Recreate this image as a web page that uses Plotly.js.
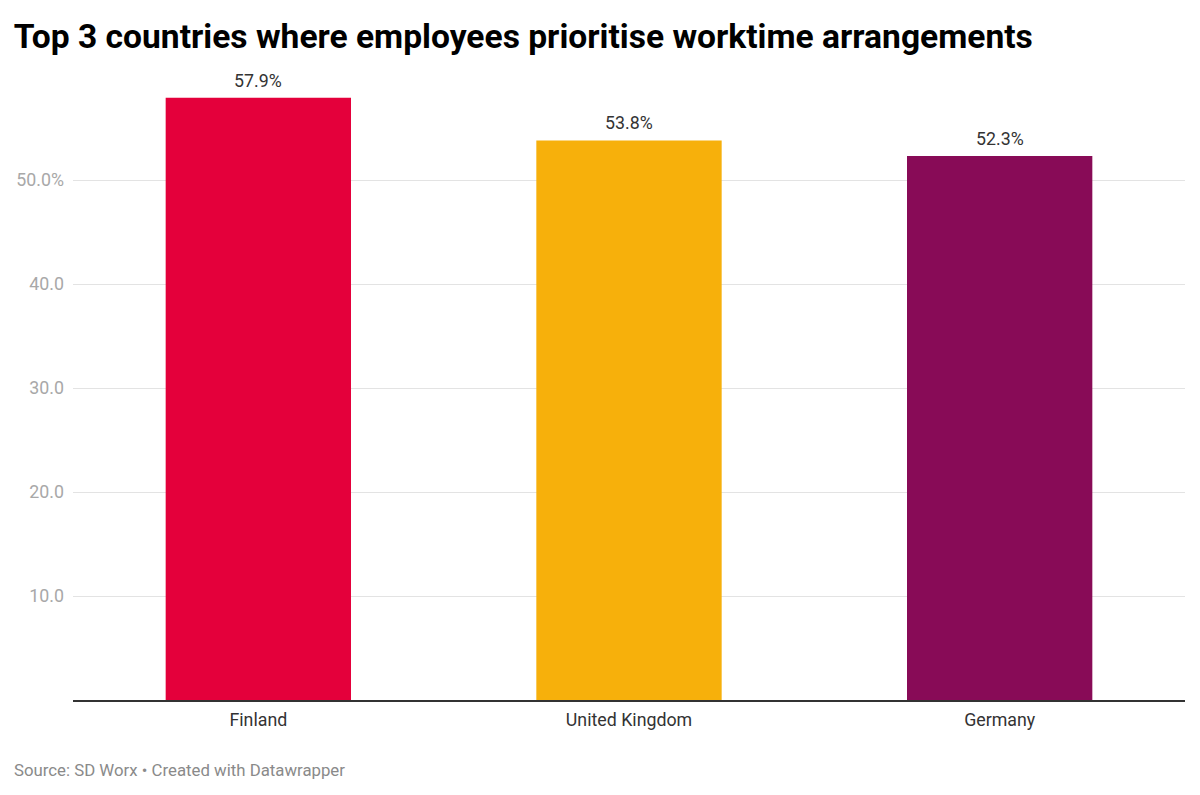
<!DOCTYPE html>
<html>
<head>
<meta charset="utf-8">
<script src="https://cdn.plot.ly/plotly-3.0.1.min.js"></script>
<style>
html,body{margin:0;padding:0;background:#fff;}
#chart{width:1200px;height:795px;}
</style>
</head>
<body>
<div id="chart"></div>
<script>
const countries = ["Finland", "United Kingdom", "Germany"];
const shares = [57.9, 53.8, 52.3];
const barColors = ["#e4003b", "#f7b00b", "#880b57"];
const yTickVals = [10, 20, 30, 40, 50];
const yTickText = ["10.0", "20.0", "30.0", "40.0", "50.0%"];

const font = "Roboto, 'Noto Sans', sans-serif";

const trace = {
  type: "bar",
  x: countries,
  y: shares,
  marker: {color: barColors, line: {width: 0}},
  hoverinfo: "none"
};

const annotations = countries.map((c, i) => ({
  x: c, y: shares[i], xref: "x", yref: "y",
  text: shares[i].toFixed(1) + "%",
  showarrow: false, yanchor: "bottom", yshift: 5,
  font: {family: font, size: 17.8, color: "#333"}
}));

annotations.push({
  xref: "paper", yref: "paper", x: -0.0548, y: -0.112,
  xanchor: "left", yanchor: "middle", showarrow: false,
  text: "Source: SD Worx • Created with Datawrapper",
  font: {family: font, size: 16.8, color: "#8a8a8a"}
});

const layout = {
  width: 1200, height: 795,
  margin: {l: 73, r: 15, t: 76, b: 95},
  paper_bgcolor: "#fff", plot_bgcolor: "#fff",
  bargap: 0.5,
  showlegend: false,
  title: {
    text: "<b>Top 3 countries where employees prioritise worktime arrangements</b>",
    x: 0.0115, xanchor: "left", xref: "container",
    y: 0.955, yanchor: "middle", yref: "container",
    font: {family: font, size: 33.6, color: "#000"}
  },
  xaxis: {
    type: "category",
    showgrid: false, zeroline: false,
    showline: true, linecolor: "#333", linewidth: 2,
    ticks: "", ticklabelstandoff: 3,
    tickfont: {family: font, size: 17.8, color: "#333"},
    fixedrange: true
  },
  yaxis: {
    range: [0, 60],
    tickvals: yTickVals, ticktext: yTickText,
    showgrid: true, gridcolor: "#e3e3e3", gridwidth: 1,
    zeroline: false, showline: false, ticks: "",
    ticklabelstandoff: 8,
    tickfont: {family: font, size: 17.8, color: "#a8a8a8"},
    fixedrange: true
  },
  annotations: annotations
};

Plotly.newPlot("chart", [trace], layout, {displayModeBar: false, staticPlot: true});
</script>
</body>
</html>
